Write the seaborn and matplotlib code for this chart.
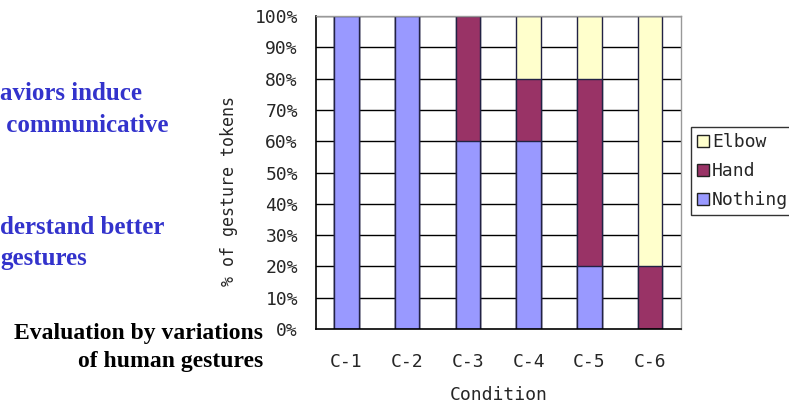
import matplotlib
matplotlib.use("Agg")
import matplotlib.pyplot as plt
import seaborn as sns
import pandas as pd
import numpy as np
from matplotlib.patches import Patch

conditions = ["C-1", "C-2", "C-3", "C-4", "C-5", "C-6"]
nothing = [100, 100, 60, 60, 20, 0]
hand = [0, 0, 40, 20, 60, 20]
elbow = [0, 0, 0, 20, 20, 80]
series_names = ["Elbow", "Hand", "Nothing"]
colors = {"Elbow": "#FFFFCC", "Hand": "#993366", "Nothing": "#9999FF"}
yticks = [0, 10, 20, 30, 40, 50, 60, 70, 80, 90, 100]

sns.set_style("white")
tick_font = ["DejaVu Sans Mono", "DejaVu Sans"]
fs = 13

fig = plt.figure(figsize=(7.89, 4.08), dpi=100)
ax = fig.add_axes([0.4005, 0.1936, 0.4620, 0.7672])

df = pd.DataFrame({"Condition": conditions, "Nothing": nothing, "Hand": hand, "Elbow": elbow})
df["cum_hand"] = df["Nothing"] + df["Hand"]
df["cum_elbow"] = df["cum_hand"] + df["Elbow"]

for ax_grid in yticks[1:]:
    ax.axhline(ax_grid, color="black", lw=1.0, zorder=0)

for col, name in [("cum_elbow", "Elbow"), ("cum_hand", "Hand"), ("Nothing", "Nothing")]:
    sns.barplot(data=df, x="Condition", y=col, color=colors[name], saturation=1,
                width=0.4, edgecolor="#222244", linewidth=1.0, ax=ax, zorder=2)

ax.set_ylim(0, 100)
ax.set_xlim(-0.5, 5.5)
ax.set_yticks(yticks)
ax.set_yticklabels([f"{v}%" for v in yticks], family=tick_font, fontsize=fs)
ax.set_xticks(range(len(conditions)))
ax.set_xticklabels(conditions, family=tick_font, fontsize=fs)
ax.tick_params(axis="y", length=0, pad=13)
ax.tick_params(axis="x", length=0, pad=17)
ax.set_xticks(np.arange(-0.5, 5.6, 1.0), minor=True)
ax.tick_params(axis="x", which="minor", direction="in", length=5, width=1, color="black")
ax.set_xlabel("Condition", family=tick_font, fontsize=fs, labelpad=11)
ax.set_ylabel("% of gesture tokens", family=tick_font, fontsize=12)
ax.yaxis.set_label_coords(-0.215, 0.441)

for s in ["left", "bottom"]:
    ax.spines[s].set_color("black")
    ax.spines[s].set_linewidth(1.2)
for s in ["top", "right"]:
    ax.spines[s].set_color("#999999")
    ax.spines[s].set_linewidth(1.0)
    ax.spines[s].set_visible(True)

handles = [Patch(facecolor=colors[n], edgecolor="#222222", label=n) for n in series_names]
leg = fig.legend(handles=handles, loc="upper left", bbox_to_anchor=(691/789, 1 - 127/408),
                 frameon=True, fancybox=False, edgecolor="black", prop={"family": tick_font, "size": fs},
                 handlelength=0.65, handleheight=0.65, handletextpad=0.15, borderpad=0.35,
                 labelspacing=0.6, borderaxespad=0)
leg.get_frame().set_linewidth(1.0)

blue = "#3333CC"
serif = ["Liberation Serif", "DejaVu Serif"]
fig.text(0.0, 1 - 93/408, "aviors induce", color=blue, family=serif, fontweight="bold", fontsize=18, va="center", ha="left")
fig.text(0.0, 1 - 125/408, " communicative", color=blue, family=serif, fontweight="bold", fontsize=18, va="center", ha="left")
fig.text(0.0, 1 - 227/408, "derstand better", color=blue, family=serif, fontweight="bold", fontsize=18, va="center", ha="left")
fig.text(0.0, 1 - 258/408, "gestures", color=blue, family=serif, fontweight="bold", fontsize=18, va="center", ha="left")
fig.text(263/789, 1 - 333/408, "Evaluation by variations", color="black", family=serif, fontweight="bold", fontsize=17, va="center", ha="right")
fig.text(263/789, 1 - 361/408, "of human gestures", color="black", family=serif, fontweight="bold", fontsize=17, va="center", ha="right")

fig.savefig("out.png", dpi=100)
